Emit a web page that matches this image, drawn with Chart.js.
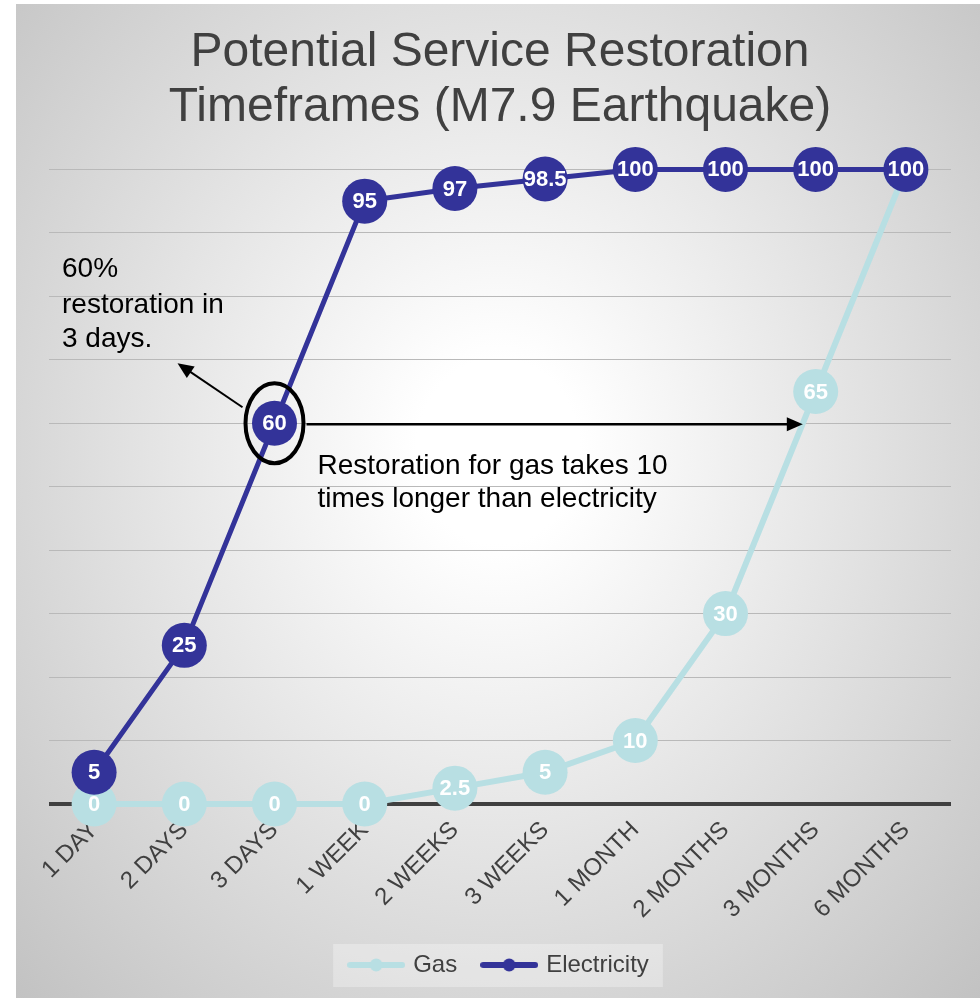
<!DOCTYPE html>
<html>
<head>
<meta charset="utf-8">
<title>Potential Service Restoration Timeframes</title>
<script src="https://cdn.jsdelivr.net/npm/chart.js@4.4.0/dist/chart.umd.min.js"></script>
<style>
  html, body { margin: 0; padding: 0; background: #fff; }
  #frame {
    position: absolute; left: 16px; top: 4px; width: 964px; height: 994px;
    background: radial-gradient(ellipse farthest-corner at 50% 45%, #ffffff 0%, #ffffff 12%, #c2c2c2 100%);
  }
</style>
</head>
<body>
<div id="frame"><canvas id="chart"></canvas></div>
<script>
// ===== data =====
const PERIODS = ['1 DAY', '2 DAYS', '3 DAYS', '1 WEEK', '2 WEEKS', '3 WEEKS', '1 MONTH', '2 MONTHS', '3 MONTHS', '6 MONTHS'];
const GAS = [0, 0, 0, 0, 2.5, 5, 10, 30, 65, 100];
const ELECTRICITY = [5, 25, 60, 95, 97, 98.5, 100, 100, 100, 100];
const Y_MIN = 0, Y_MAX = 100, Y_STEP = 10;

const FONT = '"Liberation Sans", Arial, sans-serif';
const GAS_COLOR = '#b8dfe3';
const ELEC_COLOR = '#333399';
const TEXT_COLOR = '#404040';

// line-with-dot swatch used as legend point style
function legendSwatch(color) {
  const c = document.createElement('canvas');
  c.width = 58; c.height = 16;
  const g = c.getContext('2d');
  g.strokeStyle = color; g.lineWidth = 6; g.lineCap = 'round';
  g.beginPath(); g.moveTo(3, 8); g.lineTo(55, 8); g.stroke();
  g.fillStyle = color;
  g.beginPath(); g.arc(29, 8, 6.5, 0, Math.PI * 2); g.fill();
  return c;
}
const swatches = [legendSwatch(GAS_COLOR), legendSwatch(ELEC_COLOR)];

// white value labels inside the markers
const valueLabels = {
  id: 'valueLabels',
  afterDatasetDraw(chart, args) {
    const ds = chart.data.datasets[args.index];
    const ctx = chart.ctx;
    ctx.save();
    ctx.font = 'bold 22px ' + FONT;
    ctx.fillStyle = '#fff';
    ctx.textAlign = 'center';
    ctx.textBaseline = 'middle';
    args.meta.data.forEach((pt, i) => ctx.fillText(String(ds.data[i]), pt.x, pt.y + 1));
    ctx.restore();
  }
};

// soft box behind the legend
const legendBox = {
  id: 'legendBox',
  beforeDraw(chart) {
    const boxes = chart.legend && chart.legend.legendHitBoxes;
    if (!boxes || !boxes.length) return;
    const left = Math.min(...boxes.map(b => b.left)) - 18;
    const right = Math.max(...boxes.map(b => b.left + b.width)) + 14;
    const top = boxes[0].top - 9;
    const ctx = chart.ctx;
    ctx.save();
    ctx.fillStyle = 'rgba(255,255,255,0.3)';
    ctx.fillRect(left, top, right - left, 43);
    ctx.restore();
  }
};

function arrow(ctx, x1, y1, x2, y2, width) {
  const ang = Math.atan2(y2 - y1, x2 - x1);
  const len = 16, half = 7;
  ctx.lineWidth = width;
  ctx.beginPath();
  ctx.moveTo(x1, y1);
  ctx.lineTo(x2 - Math.cos(ang) * len * 0.8, y2 - Math.sin(ang) * len * 0.8);
  ctx.stroke();
  ctx.beginPath();
  ctx.moveTo(x2, y2);
  ctx.lineTo(x2 - Math.cos(ang) * len - Math.sin(ang) * half, y2 - Math.sin(ang) * len + Math.cos(ang) * half);
  ctx.lineTo(x2 - Math.cos(ang) * len + Math.sin(ang) * half, y2 - Math.sin(ang) * len - Math.cos(ang) * half);
  ctx.closePath();
  ctx.fill();
}

// ellipse, arrows and notes
const callouts = {
  id: 'callouts',
  afterDraw(chart) {
    const { ctx, chartArea, scales: { x, y } } = chart;
    const cx = x.getPixelForValue(2);
    const cy = y.getPixelForValue(ELECTRICITY[2]);
    ctx.save();
    ctx.strokeStyle = '#000';
    ctx.fillStyle = '#000';
    ctx.lineWidth = 4;
    ctx.beginPath();
    ctx.ellipse(cx, cy, 29, 40, 0, 0, Math.PI * 2);
    ctx.stroke();

    arrow(ctx, cx - 32, cy - 16, cx - 97, cy - 60, 2);

    // where the gas curve reaches the same level
    const x7 = x.getPixelForValue(7), x8 = x.getPixelForValue(8);
    const t = (ELECTRICITY[2] - GAS[7]) / (GAS[8] - GAS[7]);
    arrow(ctx, cx + 32, cy + 1, x7 + (x8 - x7) * t, cy + 1, 2.5);

    ctx.font = '28px ' + FONT;
    ctx.textAlign = 'left';
    ctx.textBaseline = 'alphabetic';
    const tx = chartArea.left + 13, ty = chartArea.top;
    ctx.fillText('60%', tx, ty + 108);
    ctx.fillText('restoration in', tx, ty + 144);
    ctx.fillText('3 days.', tx, ty + 178);

    ctx.fillText('Restoration for gas takes 10', cx + 43, cy + 51);
    ctx.fillText('times longer than electricity', cx + 43, cy + 84);
    ctx.restore();
  }
};

new Chart(document.getElementById('chart'), {
  type: 'line',
  data: {
    labels: PERIODS,
    datasets: [
      {
        label: 'Gas',
        data: GAS,
        borderColor: GAS_COLOR,
        backgroundColor: GAS_COLOR,
        borderWidth: 6,
        pointRadius: 22.5,
        pointHoverRadius: 22.5,
        pointBorderWidth: 0,
        clip: false,
        order: 1
      },
      {
        label: 'Electricity',
        data: ELECTRICITY,
        borderColor: ELEC_COLOR,
        backgroundColor: ELEC_COLOR,
        borderWidth: 5,
        pointRadius: 22.5,
        pointHoverRadius: 22.5,
        pointBorderWidth: 0,
        clip: false,
        order: 0
      }
    ]
  },
  options: {
    responsive: true,
    maintainAspectRatio: false,
    animation: false,
    layout: { padding: { left: 33, right: 29, top: 0, bottom: 11 } },
    plugins: {
      tooltip: { enabled: false },
      title: {
        display: true,
        text: ['Potential Service Restoration', 'Timeframes (M7.9 Earthquake)'],
        color: TEXT_COLOR,
        font: { family: FONT, size: 48, weight: 'normal', lineHeight: 1.15 },
        padding: { top: 21, bottom: 34 }
      },
      legend: {
        position: 'bottom',
        labels: {
          usePointStyle: true,
          pointStyleWidth: 50,
          padding: 27,
          color: TEXT_COLOR,
          font: { family: FONT, size: 24 },
          generateLabels: chart => chart.data.datasets.map((ds, i) => ({
            text: ds.label,
            pointStyle: swatches[i],
            fillStyle: ds.borderColor,
            strokeStyle: ds.borderColor,
            fontColor: TEXT_COLOR,
            lineWidth: 0,
            hidden: false,
            datasetIndex: i
          }))
        }
      }
    },
    scales: {
      x: {
        offset: true,
        grid: { display: false, drawTicks: false },
        border: { display: false },
        ticks: {
          autoSkip: false,
          minRotation: 45,
          maxRotation: 45,
          padding: 12,
          color: TEXT_COLOR,
          font: { family: FONT, size: 24 }
        },
        afterFit: scale => { scale.height = 122; }
      },
      y: {
        min: Y_MIN,
        max: Y_MAX,
        ticks: { display: false, stepSize: Y_STEP },
        border: { display: false },
        grid: {
          drawTicks: false,
          color: ctx => ctx.tick.value === 0 ? '#404040' : '#b9b9b9',
          lineWidth: ctx => ctx.tick.value === 0 ? 4 : 1
        }
      }
    }
  },
  plugins: [legendBox, valueLabels, callouts]
});
</script>
</body>
</html>
